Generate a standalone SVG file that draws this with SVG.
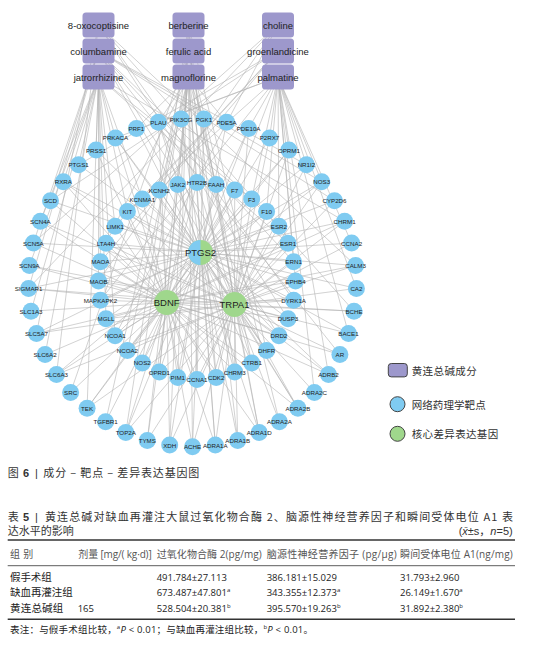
<svg xmlns="http://www.w3.org/2000/svg" width="542" height="649" viewBox="0 0 542 649">
<style>
.bg{fill:#fff}
#edges line{stroke:#b4b4b4;stroke-width:0.6}
.cmp rect{fill:#9d98cc}
.cmp text{font-family:"Liberation Sans",Arial,sans-serif;font-size:9.5px;fill:#222;text-anchor:middle;dominant-baseline:central}
.tgt circle{fill:#7fcbf1}
.tgt text{font-family:"Liberation Sans",Arial,sans-serif;font-size:6.2px;fill:#222;text-anchor:middle;dominant-baseline:central}
.core .g{fill:#9fd78c}
.core .b{fill:#7fcbf1}
.core text{font-family:"Liberation Sans",Arial,sans-serif;font-size:9.5px;fill:#222;text-anchor:middle;dominant-baseline:central}
.leg rect,.leg circle{stroke:#444;stroke-width:1}
.zh{font-family:"Noto Sans CJK SC",sans-serif;fill:#333}
.lt{font-size:10.5px;dominant-baseline:central}
.cap{font-size:11px;fill:#333}
.tb{font-family:"Open Sans","Noto Sans CJK SC",sans-serif;font-size:9.5px;fill:#222}
.tbz{font-family:"Noto Sans CJK SC",sans-serif;font-size:10.5px;fill:#222}
.hd{font-family:"Open Sans","Noto Sans CJK SC",sans-serif;font-size:10px;fill:#555}
.rule{stroke:#333}
</style>
<rect class="bg" width="542" height="649"/>
<g id="edges">
<line x1="98.5" y1="77" x2="115.5" y2="137.9"/><line x1="98.5" y1="77" x2="96.1" y2="150"/><line x1="98.5" y1="77" x2="78.6" y2="164.7"/><line x1="98.5" y1="77" x2="63.3" y2="181.7"/><line x1="98.5" y1="77" x2="40.4" y2="221.3"/><line x1="98.5" y1="77" x2="29.4" y2="265.6"/><line x1="98.5" y1="77" x2="31" y2="311.2"/><line x1="98.5" y1="77" x2="45.1" y2="354.6"/><line x1="98.5" y1="77" x2="127.4" y2="211.4"/><line x1="98.5" y1="77" x2="115.1" y2="226.3"/><line x1="98.5" y1="77" x2="100.4" y2="261.8"/><line x1="98.5" y1="77" x2="98.5" y2="281"/><line x1="98.5" y1="77" x2="106" y2="318.7"/><line x1="98.5" y1="77" x2="115.1" y2="335.7"/><line x1="98.5" y1="77" x2="142.3" y2="199.1"/><line x1="98.5" y1="77" x2="87.1" y2="408.3"/><line x1="98.5" y1="77" x2="344.6" y2="221.3"/><line x1="98.5" y1="77" x2="251.7" y2="199.1"/><line x1="98.5" y1="77" x2="288" y2="243.3"/>
<line x1="98.5" y1="51" x2="321.7" y2="181.7"/><line x1="98.5" y1="51" x2="306.4" y2="164.7"/><line x1="98.5" y1="51" x2="334.5" y2="200.7"/><line x1="98.5" y1="51" x2="293.6" y2="261.8"/><line x1="98.5" y1="51" x2="278.9" y2="335.7"/><line x1="98.5" y1="51" x2="278.9" y2="226.3"/><line x1="98.5" y1="51" x2="297.9" y2="408.3"/><line x1="98.5" y1="51" x2="339.9" y2="354.6"/><line x1="98.5" y1="51" x2="50.5" y2="200.7"/><line x1="98.5" y1="51" x2="33.4" y2="243"/><line x1="98.5" y1="51" x2="28.6" y2="288.4"/>
<line x1="98.5" y1="25" x2="355.6" y2="265.6"/><line x1="98.5" y1="25" x2="293.6" y2="300.2"/><line x1="98.5" y1="25" x2="288" y2="318.7"/><line x1="98.5" y1="25" x2="354" y2="311.2"/><line x1="98.5" y1="25" x2="36.5" y2="333.4"/><line x1="98.5" y1="25" x2="56.5" y2="374.4"/>
<line x1="188.5" y1="77" x2="181.1" y2="119.1"/><line x1="188.5" y1="77" x2="158.4" y2="122.3"/><line x1="188.5" y1="77" x2="136.4" y2="128.6"/><line x1="188.5" y1="77" x2="177.8" y2="184.4"/><line x1="188.5" y1="77" x2="159.3" y2="190"/><line x1="188.5" y1="77" x2="197" y2="182.5"/><line x1="188.5" y1="77" x2="216.2" y2="184.4"/><line x1="188.5" y1="77" x2="203.9" y2="119.1"/><line x1="188.5" y1="77" x2="226.6" y2="122.3"/><line x1="188.5" y1="77" x2="106" y2="243.3"/><line x1="188.5" y1="77" x2="127.4" y2="350.6"/><line x1="188.5" y1="77" x2="159.3" y2="372"/><line x1="188.5" y1="77" x2="197" y2="379.5"/><line x1="188.5" y1="77" x2="234.7" y2="372"/><line x1="188.5" y1="77" x2="192.5" y2="446.7"/><line x1="188.5" y1="77" x2="147.3" y2="440.4"/><line x1="188.5" y1="77" x2="215.3" y2="445.1"/>
<line x1="188.5" y1="51" x2="70.6" y2="392.4"/><line x1="188.5" y1="51" x2="105.6" y2="421.8"/><line x1="188.5" y1="51" x2="279.4" y2="421.8"/><line x1="188.5" y1="51" x2="259.2" y2="432.5"/><line x1="188.5" y1="51" x2="251.7" y2="362.9"/><line x1="188.5" y1="51" x2="142.3" y2="362.9"/>
<line x1="188.5" y1="25" x2="125.8" y2="432.5"/><line x1="188.5" y1="25" x2="169.7" y2="445.1"/><line x1="188.5" y1="25" x2="237.7" y2="440.4"/><line x1="188.5" y1="25" x2="266.6" y2="350.6"/><line x1="188.5" y1="25" x2="177.8" y2="377.6"/><line x1="188.5" y1="25" x2="216.2" y2="377.6"/>
<line x1="278" y1="77" x2="248.6" y2="128.6"/><line x1="278" y1="77" x2="269.5" y2="137.9"/><line x1="278" y1="77" x2="288.9" y2="150"/><line x1="278" y1="77" x2="306.4" y2="164.7"/><line x1="278" y1="77" x2="321.7" y2="181.7"/><line x1="278" y1="77" x2="234.7" y2="190"/><line x1="278" y1="77" x2="266.6" y2="211.4"/><line x1="278" y1="77" x2="251.7" y2="199.1"/><line x1="278" y1="77" x2="278.9" y2="226.3"/><line x1="278" y1="77" x2="295.5" y2="281"/><line x1="278" y1="77" x2="293.6" y2="261.8"/><line x1="278" y1="77" x2="351.6" y2="243"/><line x1="278" y1="77" x2="356.4" y2="288.4"/><line x1="278" y1="77" x2="348.5" y2="333.4"/><line x1="278" y1="77" x2="328.5" y2="374.4"/><line x1="278" y1="77" x2="314.4" y2="392.4"/><line x1="278" y1="77" x2="100.4" y2="300.2"/><line x1="278" y1="77" x2="127.4" y2="211.4"/><line x1="278" y1="77" x2="158.4" y2="122.3"/><line x1="278" y1="77" x2="115.5" y2="137.9"/>
<line x1="278" y1="51" x2="78.6" y2="164.7"/><line x1="278" y1="51" x2="50.5" y2="200.7"/><line x1="278" y1="51" x2="115.1" y2="226.3"/><line x1="278" y1="51" x2="142.3" y2="199.1"/><line x1="278" y1="51" x2="100.4" y2="261.8"/>
<line x1="278" y1="25" x2="33.4" y2="243"/><line x1="278" y1="25" x2="28.6" y2="288.4"/><line x1="278" y1="25" x2="98.5" y2="281"/><line x1="278" y1="25" x2="115.1" y2="335.7"/>
<line x1="200.5" y1="252.5" x2="293.6" y2="261.8"/><line x1="200.5" y1="252.5" x2="288" y2="243.3"/><line x1="200.5" y1="252.5" x2="278.9" y2="226.3"/><line x1="200.5" y1="252.5" x2="266.6" y2="211.4"/><line x1="200.5" y1="252.5" x2="251.7" y2="199.1"/><line x1="200.5" y1="252.5" x2="234.7" y2="190"/><line x1="200.5" y1="252.5" x2="216.2" y2="184.4"/><line x1="200.5" y1="252.5" x2="197" y2="182.5"/><line x1="200.5" y1="252.5" x2="177.8" y2="184.4"/><line x1="200.5" y1="252.5" x2="159.3" y2="190"/><line x1="200.5" y1="252.5" x2="142.3" y2="199.1"/><line x1="200.5" y1="252.5" x2="127.4" y2="211.4"/><line x1="200.5" y1="252.5" x2="115.1" y2="226.3"/><line x1="200.5" y1="252.5" x2="106" y2="243.3"/><line x1="200.5" y1="252.5" x2="100.4" y2="261.8"/><line x1="200.5" y1="252.5" x2="278.9" y2="335.7"/><line x1="200.5" y1="252.5" x2="106" y2="318.7"/><line x1="200.5" y1="252.5" x2="142.3" y2="362.9"/><line x1="200.5" y1="252.5" x2="251.7" y2="362.9"/><line x1="200.5" y1="252.5" x2="226.6" y2="122.3"/><line x1="200.5" y1="252.5" x2="181.1" y2="119.1"/><line x1="200.5" y1="252.5" x2="136.4" y2="128.6"/><line x1="200.5" y1="252.5" x2="96.1" y2="150"/><line x1="200.5" y1="252.5" x2="78.6" y2="164.7"/><line x1="200.5" y1="252.5" x2="63.3" y2="181.7"/><line x1="200.5" y1="252.5" x2="50.5" y2="200.7"/><line x1="200.5" y1="252.5" x2="351.6" y2="243"/><line x1="200.5" y1="252.5" x2="334.5" y2="200.7"/><line x1="200.5" y1="252.5" x2="306.4" y2="164.7"/><line x1="200.5" y1="252.5" x2="288.9" y2="150"/><line x1="200.5" y1="252.5" x2="269.5" y2="137.9"/><line x1="200.5" y1="252.5" x2="356.4" y2="288.4"/><line x1="200.5" y1="252.5" x2="348.5" y2="333.4"/><line x1="200.5" y1="252.5" x2="87.1" y2="408.3"/><line x1="200.5" y1="252.5" x2="36.5" y2="333.4"/><line x1="200.5" y1="252.5" x2="237.7" y2="440.4"/><line x1="200.5" y1="252.5" x2="192.5" y2="446.7"/><line x1="200.5" y1="252.5" x2="169.7" y2="445.1"/>
<line x1="200.5" y1="252.5" x2="197" y2="379.5"/><line x1="200.5" y1="252.5" x2="216.2" y2="377.6"/><line x1="200.5" y1="252.5" x2="234.7" y2="372"/><line x1="200.5" y1="252.5" x2="266.6" y2="350.6"/><line x1="200.5" y1="252.5" x2="288" y2="318.7"/><line x1="200.5" y1="252.5" x2="293.6" y2="300.2"/><line x1="200.5" y1="252.5" x2="295.5" y2="281"/><line x1="200.5" y1="252.5" x2="98.5" y2="281"/><line x1="200.5" y1="252.5" x2="100.4" y2="300.2"/><line x1="200.5" y1="252.5" x2="115.1" y2="335.7"/><line x1="200.5" y1="252.5" x2="127.4" y2="350.6"/><line x1="200.5" y1="252.5" x2="159.3" y2="372"/><line x1="200.5" y1="252.5" x2="177.8" y2="377.6"/><line x1="200.5" y1="252.5" x2="215.3" y2="445.1"/><line x1="200.5" y1="252.5" x2="259.2" y2="432.5"/><line x1="200.5" y1="252.5" x2="297.9" y2="408.3"/><line x1="200.5" y1="252.5" x2="328.5" y2="374.4"/><line x1="200.5" y1="252.5" x2="355.6" y2="265.6"/><line x1="200.5" y1="252.5" x2="344.6" y2="221.3"/><line x1="200.5" y1="252.5" x2="321.7" y2="181.7"/><line x1="200.5" y1="252.5" x2="248.6" y2="128.6"/><line x1="200.5" y1="252.5" x2="203.9" y2="119.1"/><line x1="200.5" y1="252.5" x2="158.4" y2="122.3"/><line x1="200.5" y1="252.5" x2="115.5" y2="137.9"/><line x1="200.5" y1="252.5" x2="33.4" y2="243"/><line x1="200.5" y1="252.5" x2="28.6" y2="288.4"/><line x1="200.5" y1="252.5" x2="56.5" y2="374.4"/><line x1="200.5" y1="252.5" x2="125.8" y2="432.5"/>
<line x1="166.7" y1="302.5" x2="98.5" y2="281"/><line x1="166.7" y1="302.5" x2="100.4" y2="300.2"/><line x1="166.7" y1="302.5" x2="106" y2="318.7"/><line x1="166.7" y1="302.5" x2="115.1" y2="335.7"/><line x1="166.7" y1="302.5" x2="127.4" y2="350.6"/><line x1="166.7" y1="302.5" x2="159.3" y2="372"/><line x1="166.7" y1="302.5" x2="177.8" y2="377.6"/><line x1="166.7" y1="302.5" x2="197" y2="379.5"/><line x1="166.7" y1="302.5" x2="106" y2="243.3"/><line x1="166.7" y1="302.5" x2="127.4" y2="211.4"/><line x1="166.7" y1="302.5" x2="177.8" y2="184.4"/><line x1="166.7" y1="302.5" x2="293.6" y2="300.2"/><line x1="166.7" y1="302.5" x2="288" y2="318.7"/><line x1="166.7" y1="302.5" x2="40.4" y2="221.3"/><line x1="166.7" y1="302.5" x2="33.4" y2="243"/><line x1="166.7" y1="302.5" x2="29.4" y2="265.6"/><line x1="166.7" y1="302.5" x2="28.6" y2="288.4"/><line x1="166.7" y1="302.5" x2="31" y2="311.2"/><line x1="166.7" y1="302.5" x2="45.1" y2="354.6"/><line x1="166.7" y1="302.5" x2="56.5" y2="374.4"/><line x1="166.7" y1="302.5" x2="70.6" y2="392.4"/><line x1="166.7" y1="302.5" x2="105.6" y2="421.8"/><line x1="166.7" y1="302.5" x2="125.8" y2="432.5"/><line x1="166.7" y1="302.5" x2="147.3" y2="440.4"/><line x1="166.7" y1="302.5" x2="158.4" y2="122.3"/><line x1="166.7" y1="302.5" x2="115.5" y2="137.9"/><line x1="166.7" y1="302.5" x2="259.2" y2="432.5"/><line x1="166.7" y1="302.5" x2="297.9" y2="408.3"/><line x1="166.7" y1="302.5" x2="354" y2="311.2"/><line x1="166.7" y1="302.5" x2="344.6" y2="221.3"/><line x1="166.7" y1="302.5" x2="203.9" y2="119.1"/><line x1="166.7" y1="302.5" x2="339.9" y2="354.6"/>
<line x1="166.7" y1="302.5" x2="159.3" y2="190"/><line x1="166.7" y1="302.5" x2="142.3" y2="199.1"/><line x1="166.7" y1="302.5" x2="115.1" y2="226.3"/><line x1="166.7" y1="302.5" x2="100.4" y2="261.8"/><line x1="166.7" y1="302.5" x2="142.3" y2="362.9"/><line x1="166.7" y1="302.5" x2="216.2" y2="377.6"/><line x1="166.7" y1="302.5" x2="234.7" y2="372"/><line x1="166.7" y1="302.5" x2="251.7" y2="362.9"/><line x1="166.7" y1="302.5" x2="278.9" y2="335.7"/><line x1="166.7" y1="302.5" x2="295.5" y2="281"/><line x1="166.7" y1="302.5" x2="288" y2="243.3"/><line x1="166.7" y1="302.5" x2="266.6" y2="211.4"/><line x1="166.7" y1="302.5" x2="234.7" y2="190"/><line x1="166.7" y1="302.5" x2="197" y2="182.5"/><line x1="166.7" y1="302.5" x2="96.1" y2="150"/><line x1="166.7" y1="302.5" x2="63.3" y2="181.7"/><line x1="166.7" y1="302.5" x2="50.5" y2="200.7"/><line x1="166.7" y1="302.5" x2="36.5" y2="333.4"/><line x1="166.7" y1="302.5" x2="87.1" y2="408.3"/><line x1="166.7" y1="302.5" x2="169.7" y2="445.1"/><line x1="166.7" y1="302.5" x2="192.5" y2="446.7"/><line x1="166.7" y1="302.5" x2="215.3" y2="445.1"/><line x1="166.7" y1="302.5" x2="328.5" y2="374.4"/><line x1="166.7" y1="302.5" x2="355.6" y2="265.6"/><line x1="166.7" y1="302.5" x2="321.7" y2="181.7"/><line x1="166.7" y1="302.5" x2="288.9" y2="150"/><line x1="166.7" y1="302.5" x2="248.6" y2="128.6"/>
<line x1="234.5" y1="304.5" x2="216.2" y2="377.6"/><line x1="234.5" y1="304.5" x2="234.7" y2="372"/><line x1="234.5" y1="304.5" x2="251.7" y2="362.9"/><line x1="234.5" y1="304.5" x2="266.6" y2="350.6"/><line x1="234.5" y1="304.5" x2="278.9" y2="335.7"/><line x1="234.5" y1="304.5" x2="288" y2="318.7"/><line x1="234.5" y1="304.5" x2="293.6" y2="300.2"/><line x1="234.5" y1="304.5" x2="295.5" y2="281"/><line x1="234.5" y1="304.5" x2="288" y2="243.3"/><line x1="234.5" y1="304.5" x2="251.7" y2="199.1"/><line x1="234.5" y1="304.5" x2="215.3" y2="445.1"/><line x1="234.5" y1="304.5" x2="259.2" y2="432.5"/><line x1="234.5" y1="304.5" x2="279.4" y2="421.8"/><line x1="234.5" y1="304.5" x2="314.4" y2="392.4"/><line x1="234.5" y1="304.5" x2="328.5" y2="374.4"/><line x1="234.5" y1="304.5" x2="339.9" y2="354.6"/><line x1="234.5" y1="304.5" x2="348.5" y2="333.4"/><line x1="234.5" y1="304.5" x2="354" y2="311.2"/><line x1="234.5" y1="304.5" x2="355.6" y2="265.6"/><line x1="234.5" y1="304.5" x2="344.6" y2="221.3"/><line x1="234.5" y1="304.5" x2="321.7" y2="181.7"/><line x1="234.5" y1="304.5" x2="248.6" y2="128.6"/><line x1="234.5" y1="304.5" x2="269.5" y2="137.9"/><line x1="234.5" y1="304.5" x2="63.3" y2="181.7"/><line x1="234.5" y1="304.5" x2="40.4" y2="221.3"/><line x1="234.5" y1="304.5" x2="28.6" y2="288.4"/><line x1="234.5" y1="304.5" x2="36.5" y2="333.4"/><line x1="234.5" y1="304.5" x2="87.1" y2="408.3"/><line x1="234.5" y1="304.5" x2="125.8" y2="432.5"/><line x1="234.5" y1="304.5" x2="169.7" y2="445.1"/>
<line x1="234.5" y1="304.5" x2="197" y2="379.5"/><line x1="234.5" y1="304.5" x2="293.6" y2="261.8"/><line x1="234.5" y1="304.5" x2="278.9" y2="226.3"/><line x1="234.5" y1="304.5" x2="266.6" y2="211.4"/><line x1="234.5" y1="304.5" x2="234.7" y2="190"/><line x1="234.5" y1="304.5" x2="216.2" y2="184.4"/><line x1="234.5" y1="304.5" x2="197" y2="182.5"/><line x1="234.5" y1="304.5" x2="159.3" y2="190"/><line x1="234.5" y1="304.5" x2="127.4" y2="211.4"/><line x1="234.5" y1="304.5" x2="106" y2="243.3"/><line x1="234.5" y1="304.5" x2="98.5" y2="281"/><line x1="234.5" y1="304.5" x2="106" y2="318.7"/><line x1="234.5" y1="304.5" x2="127.4" y2="350.6"/><line x1="234.5" y1="304.5" x2="159.3" y2="372"/><line x1="234.5" y1="304.5" x2="192.5" y2="446.7"/><line x1="234.5" y1="304.5" x2="237.7" y2="440.4"/><line x1="234.5" y1="304.5" x2="297.9" y2="408.3"/><line x1="234.5" y1="304.5" x2="356.4" y2="288.4"/><line x1="234.5" y1="304.5" x2="351.6" y2="243"/><line x1="234.5" y1="304.5" x2="334.5" y2="200.7"/><line x1="234.5" y1="304.5" x2="306.4" y2="164.7"/><line x1="234.5" y1="304.5" x2="288.9" y2="150"/><line x1="234.5" y1="304.5" x2="203.9" y2="119.1"/><line x1="234.5" y1="304.5" x2="158.4" y2="122.3"/><line x1="234.5" y1="304.5" x2="115.5" y2="137.9"/><line x1="234.5" y1="304.5" x2="29.4" y2="265.6"/><line x1="234.5" y1="304.5" x2="56.5" y2="374.4"/><line x1="234.5" y1="304.5" x2="147.3" y2="440.4"/>
</g>
<g id="compounds">
<g id="c-8-oxocoptisine" class="cmp"><rect x="82.5" y="12.5" width="32" height="25" rx="3.5"/><text x="98.5" y="25">8-oxocoptisine</text></g>
<g id="c-columbamine" class="cmp"><rect x="82.5" y="38.5" width="32" height="25" rx="3.5"/><text x="98.5" y="51">columbamine</text></g>
<g id="c-jatrorrhizine" class="cmp"><rect x="82.5" y="64.5" width="32" height="25" rx="3.5"/><text x="98.5" y="77">jatrorrhizine</text></g>
<g id="c-berberine" class="cmp"><rect x="172.5" y="12.5" width="32" height="25" rx="3.5"/><text x="188.5" y="25">berberine</text></g>
<g id="c-ferulic-acid" class="cmp"><rect x="172.5" y="38.5" width="32" height="25" rx="3.5"/><text x="188.5" y="51">ferulic acid</text></g>
<g id="c-magnoflorine" class="cmp"><rect x="172.5" y="64.5" width="32" height="25" rx="3.5"/><text x="188.5" y="77">magnoflorine</text></g>
<g id="c-choline" class="cmp"><rect x="262" y="12.5" width="32" height="25" rx="3.5"/><text x="278" y="25">choline</text></g>
<g id="c-groenlandicine" class="cmp"><rect x="262" y="38.5" width="32" height="25" rx="3.5"/><text x="278" y="51">groenlandicine</text></g>
<g id="c-palmatine" class="cmp"><rect x="262" y="64.5" width="32" height="25" rx="3.5"/><text x="278" y="77">palmatine</text></g>
</g>
<g id="targets">
<g id="t-ACHE" class="tgt"><circle cx="192.5" cy="446.7" r="8.5"/><text x="192.5" y="446.7">ACHE</text></g>
<g id="t-ADRA1A" class="tgt"><circle cx="215.3" cy="445.1" r="8.5"/><text x="215.3" y="445.1">ADRA1A</text></g>
<g id="t-ADRA1B" class="tgt"><circle cx="237.7" cy="440.4" r="8.5"/><text x="237.7" y="440.4">ADRA1B</text></g>
<g id="t-ADRA1D" class="tgt"><circle cx="259.2" cy="432.5" r="8.5"/><text x="259.2" y="432.5">ADRA1D</text></g>
<g id="t-ADRA2A" class="tgt"><circle cx="279.4" cy="421.8" r="8.5"/><text x="279.4" y="421.8">ADRA2A</text></g>
<g id="t-ADRA2B" class="tgt"><circle cx="297.9" cy="408.3" r="8.5"/><text x="297.9" y="408.3">ADRA2B</text></g>
<g id="t-ADRA2C" class="tgt"><circle cx="314.4" cy="392.4" r="8.5"/><text x="314.4" y="392.4">ADRA2C</text></g>
<g id="t-ADRB2" class="tgt"><circle cx="328.5" cy="374.4" r="8.5"/><text x="328.5" y="374.4">ADRB2</text></g>
<g id="t-AR" class="tgt"><circle cx="339.9" cy="354.6" r="8.5"/><text x="339.9" y="354.6">AR</text></g>
<g id="t-BACE1" class="tgt"><circle cx="348.5" cy="333.4" r="8.5"/><text x="348.5" y="333.4">BACE1</text></g>
<g id="t-BCHE" class="tgt"><circle cx="354" cy="311.2" r="8.5"/><text x="354" y="311.2">BCHE</text></g>
<g id="t-CA2" class="tgt"><circle cx="356.4" cy="288.4" r="8.5"/><text x="356.4" y="288.4">CA2</text></g>
<g id="t-CALM3" class="tgt"><circle cx="355.6" cy="265.6" r="8.5"/><text x="355.6" y="265.6">CALM3</text></g>
<g id="t-CCNA2" class="tgt"><circle cx="351.6" cy="243" r="8.5"/><text x="351.6" y="243">CCNA2</text></g>
<g id="t-CHRM1" class="tgt"><circle cx="344.6" cy="221.3" r="8.5"/><text x="344.6" y="221.3">CHRM1</text></g>
<g id="t-CYP2D6" class="tgt"><circle cx="334.5" cy="200.7" r="8.5"/><text x="334.5" y="200.7">CYP2D6</text></g>
<g id="t-NOS3" class="tgt"><circle cx="321.7" cy="181.7" r="8.5"/><text x="321.7" y="181.7">NOS3</text></g>
<g id="t-NR1I2" class="tgt"><circle cx="306.4" cy="164.7" r="8.5"/><text x="306.4" y="164.7">NR1I2</text></g>
<g id="t-OPRM1" class="tgt"><circle cx="288.9" cy="150" r="8.5"/><text x="288.9" y="150">OPRM1</text></g>
<g id="t-P2RX7" class="tgt"><circle cx="269.5" cy="137.9" r="8.5"/><text x="269.5" y="137.9">P2RX7</text></g>
<g id="t-PDE10A" class="tgt"><circle cx="248.6" cy="128.6" r="8.5"/><text x="248.6" y="128.6">PDE10A</text></g>
<g id="t-PDE5A" class="tgt"><circle cx="226.6" cy="122.3" r="8.5"/><text x="226.6" y="122.3">PDE5A</text></g>
<g id="t-PGK1" class="tgt"><circle cx="203.9" cy="119.1" r="8.5"/><text x="203.9" y="119.1">PGK1</text></g>
<g id="t-PIK3CG" class="tgt"><circle cx="181.1" cy="119.1" r="8.5"/><text x="181.1" y="119.1">PIK3CG</text></g>
<g id="t-PLAU" class="tgt"><circle cx="158.4" cy="122.3" r="8.5"/><text x="158.4" y="122.3">PLAU</text></g>
<g id="t-PRF1" class="tgt"><circle cx="136.4" cy="128.6" r="8.5"/><text x="136.4" y="128.6">PRF1</text></g>
<g id="t-PRKACA" class="tgt"><circle cx="115.5" cy="137.9" r="8.5"/><text x="115.5" y="137.9">PRKACA</text></g>
<g id="t-PRSS1" class="tgt"><circle cx="96.1" cy="150" r="8.5"/><text x="96.1" y="150">PRSS1</text></g>
<g id="t-PTGS1" class="tgt"><circle cx="78.6" cy="164.7" r="8.5"/><text x="78.6" y="164.7">PTGS1</text></g>
<g id="t-RXRA" class="tgt"><circle cx="63.3" cy="181.7" r="8.5"/><text x="63.3" y="181.7">RXRA</text></g>
<g id="t-SCD" class="tgt"><circle cx="50.5" cy="200.7" r="8.5"/><text x="50.5" y="200.7">SCD</text></g>
<g id="t-SCN4A" class="tgt"><circle cx="40.4" cy="221.3" r="8.5"/><text x="40.4" y="221.3">SCN4A</text></g>
<g id="t-SCN5A" class="tgt"><circle cx="33.4" cy="243" r="8.5"/><text x="33.4" y="243">SCN5A</text></g>
<g id="t-SCN9A" class="tgt"><circle cx="29.4" cy="265.6" r="8.5"/><text x="29.4" y="265.6">SCN9A</text></g>
<g id="t-SIGMAR1" class="tgt"><circle cx="28.6" cy="288.4" r="8.5"/><text x="28.6" y="288.4">SIGMAR1</text></g>
<g id="t-SLC1A3" class="tgt"><circle cx="31" cy="311.2" r="8.5"/><text x="31" y="311.2">SLC1A3</text></g>
<g id="t-SLC5A7" class="tgt"><circle cx="36.5" cy="333.4" r="8.5"/><text x="36.5" y="333.4">SLC5A7</text></g>
<g id="t-SLC6A2" class="tgt"><circle cx="45.1" cy="354.6" r="8.5"/><text x="45.1" y="354.6">SLC6A2</text></g>
<g id="t-SLC6A3" class="tgt"><circle cx="56.5" cy="374.4" r="8.5"/><text x="56.5" y="374.4">SLC6A3</text></g>
<g id="t-SRC" class="tgt"><circle cx="70.6" cy="392.4" r="8.5"/><text x="70.6" y="392.4">SRC</text></g>
<g id="t-TEK" class="tgt"><circle cx="87.1" cy="408.3" r="8.5"/><text x="87.1" y="408.3">TEK</text></g>
<g id="t-TGFBR1" class="tgt"><circle cx="105.6" cy="421.8" r="8.5"/><text x="105.6" y="421.8">TGFBR1</text></g>
<g id="t-TOP2A" class="tgt"><circle cx="125.8" cy="432.5" r="8.5"/><text x="125.8" y="432.5">TOP2A</text></g>
<g id="t-TYMS" class="tgt"><circle cx="147.3" cy="440.4" r="8.5"/><text x="147.3" y="440.4">TYMS</text></g>
<g id="t-XDH" class="tgt"><circle cx="169.7" cy="445.1" r="8.5"/><text x="169.7" y="445.1">XDH</text></g>
<g id="t-CCNA1" class="tgt"><circle cx="197" cy="379.5" r="8.5"/><text x="197" y="379.5">CCNA1</text></g>
<g id="t-CDK2" class="tgt"><circle cx="216.2" cy="377.6" r="8.5"/><text x="216.2" y="377.6">CDK2</text></g>
<g id="t-CHRM3" class="tgt"><circle cx="234.7" cy="372" r="8.5"/><text x="234.7" y="372">CHRM3</text></g>
<g id="t-CTRB1" class="tgt"><circle cx="251.7" cy="362.9" r="8.5"/><text x="251.7" y="362.9">CTRB1</text></g>
<g id="t-DHFR" class="tgt"><circle cx="266.6" cy="350.6" r="8.5"/><text x="266.6" y="350.6">DHFR</text></g>
<g id="t-DRD2" class="tgt"><circle cx="278.9" cy="335.7" r="8.5"/><text x="278.9" y="335.7">DRD2</text></g>
<g id="t-DUSP3" class="tgt"><circle cx="288" cy="318.7" r="8.5"/><text x="288" y="318.7">DUSP3</text></g>
<g id="t-DYRK1A" class="tgt"><circle cx="293.6" cy="300.2" r="8.5"/><text x="293.6" y="300.2">DYRK1A</text></g>
<g id="t-EPHB4" class="tgt"><circle cx="295.5" cy="281" r="8.5"/><text x="295.5" y="281">EPHB4</text></g>
<g id="t-ERN1" class="tgt"><circle cx="293.6" cy="261.8" r="8.5"/><text x="293.6" y="261.8">ERN1</text></g>
<g id="t-ESR1" class="tgt"><circle cx="288" cy="243.3" r="8.5"/><text x="288" y="243.3">ESR1</text></g>
<g id="t-ESR2" class="tgt"><circle cx="278.9" cy="226.3" r="8.5"/><text x="278.9" y="226.3">ESR2</text></g>
<g id="t-F10" class="tgt"><circle cx="266.6" cy="211.4" r="8.5"/><text x="266.6" y="211.4">F10</text></g>
<g id="t-F3" class="tgt"><circle cx="251.7" cy="199.1" r="8.5"/><text x="251.7" y="199.1">F3</text></g>
<g id="t-F7" class="tgt"><circle cx="234.7" cy="190" r="8.5"/><text x="234.7" y="190">F7</text></g>
<g id="t-FAAH" class="tgt"><circle cx="216.2" cy="184.4" r="8.5"/><text x="216.2" y="184.4">FAAH</text></g>
<g id="t-HTR2B" class="tgt"><circle cx="197" cy="182.5" r="8.5"/><text x="197" y="182.5">HTR2B</text></g>
<g id="t-JAK2" class="tgt"><circle cx="177.8" cy="184.4" r="8.5"/><text x="177.8" y="184.4">JAK2</text></g>
<g id="t-KCNH2" class="tgt"><circle cx="159.3" cy="190" r="8.5"/><text x="159.3" y="190">KCNH2</text></g>
<g id="t-KCNMA1" class="tgt"><circle cx="142.3" cy="199.1" r="8.5"/><text x="142.3" y="199.1">KCNMA1</text></g>
<g id="t-KIT" class="tgt"><circle cx="127.4" cy="211.4" r="8.5"/><text x="127.4" y="211.4">KIT</text></g>
<g id="t-LIMK1" class="tgt"><circle cx="115.1" cy="226.3" r="8.5"/><text x="115.1" y="226.3">LIMK1</text></g>
<g id="t-LTA4H" class="tgt"><circle cx="106" cy="243.3" r="8.5"/><text x="106" y="243.3">LTA4H</text></g>
<g id="t-MAOA" class="tgt"><circle cx="100.4" cy="261.8" r="8.5"/><text x="100.4" y="261.8">MAOA</text></g>
<g id="t-MAOB" class="tgt"><circle cx="98.5" cy="281" r="8.5"/><text x="98.5" y="281">MAOB</text></g>
<g id="t-MAPKAPK2" class="tgt"><circle cx="100.4" cy="300.2" r="8.5"/><text x="100.4" y="300.2">MAPKAPK2</text></g>
<g id="t-MGLL" class="tgt"><circle cx="106" cy="318.7" r="8.5"/><text x="106" y="318.7">MGLL</text></g>
<g id="t-NCOA1" class="tgt"><circle cx="115.1" cy="335.7" r="8.5"/><text x="115.1" y="335.7">NCOA1</text></g>
<g id="t-NCOA2" class="tgt"><circle cx="127.4" cy="350.6" r="8.5"/><text x="127.4" y="350.6">NCOA2</text></g>
<g id="t-NOS2" class="tgt"><circle cx="142.3" cy="362.9" r="8.5"/><text x="142.3" y="362.9">NOS2</text></g>
<g id="t-OPRD1" class="tgt"><circle cx="159.3" cy="372" r="8.5"/><text x="159.3" y="372">OPRD1</text></g>
<g id="t-PIM1" class="tgt"><circle cx="177.8" cy="377.6" r="8.5"/><text x="177.8" y="377.6">PIM1</text></g>
</g>
<g id="cores">
<g id="g-PTGS2" class="core"><circle class="g" cx="200.5" cy="252.5" r="12.5"/><path class="b" d="M200.5 240A12.5 12.5 0 0 0 200.5 265Z"/><text x="200.5" y="252.5">PTGS2</text></g>
<g id="g-BDNF" class="core"><circle class="g" cx="166.7" cy="302.5" r="12.5"/><text x="166.7" y="302.5">BDNF</text></g>
<g id="g-TRPA1" class="core"><circle class="g" cx="234.5" cy="304.5" r="12.5"/><text x="234.5" y="304.5">TRPA1</text></g>
</g>
<g id="legend" class="leg">
<rect x="388.3" y="363.5" width="19" height="13.4" rx="3" fill="#9d98cc"/>
<text class="zh lt" x="411.7" y="370.5" textLength="65">黄连总碱成分</text>
<circle cx="397.5" cy="404.2" r="7.5" fill="#7fcbf1"/>
<text class="zh lt" x="411.7" y="404.2" textLength="74">网络药理学靶点</text>
<circle cx="397.5" cy="433.8" r="7.5" fill="#9fd78c"/>
<text class="zh lt" x="411.7" y="433.8" textLength="86.5">核心差异表达基因</text>
</g>
<g id="caption">
<text class="zh cap" x="7.7" y="476.5" font-size="11.5">图</text>
<text class="cap" x="23" y="476.5" font-size="11.5" font-family="Liberation Sans,sans-serif" font-weight="bold">6</text>
<text class="cap" x="35" y="476.5" font-size="11.5" font-family="Liberation Sans,sans-serif" fill="#999">|</text>
<text class="zh cap" x="43.3" y="476.5" font-size="11.5" textLength="156">成分 – 靶点 – 差异表达基因图</text>
<text class="zh cap" x="7.7" y="520.6">表</text>
<text class="cap" x="23" y="520.6" font-family="Liberation Sans,sans-serif" font-weight="bold">5</text>
<text class="cap" x="35" y="520.6" font-family="Liberation Sans,sans-serif" fill="#999">|</text>
<text class="zh cap" x="45" y="520.6" textLength="468">黄连总碱对缺血再灌注大鼠过氧化物合酶 2、脑源性神经营养因子和瞬间受体电位 A1 表</text>
<text class="zh cap" x="7.7" y="534.8">达水平的影响</text>
<text class="cap" x="512.7" y="534.8" text-anchor="end" font-family="Liberation Sans,Noto Sans CJK SC,sans-serif">(<tspan font-style="italic">x̄</tspan>±s，<tspan font-style="italic">n</tspan>=5)</text>
</g>
<g id="table">
<line class="rule" x1="7.7" y1="540" x2="515" y2="540" stroke-width="1.6"/>
<line class="rule" x1="7.7" y1="565.7" x2="515" y2="565.7" stroke-width="0.8"/>
<line class="rule" x1="7.7" y1="619.3" x2="515" y2="619.3" stroke-width="1.6"/>
<text class="hd" x="10" y="557.6" textLength="23.3">组别</text>
<text class="hd" x="78.3" y="557.6" textLength="73.4">剂量 [mg/( kg·d)]</text>
<text class="hd" x="156.7" y="557.6" textLength="105">过氧化物合酶 2(pg/mg)</text>
<text class="hd" x="266.7" y="557.6" textLength="130">脑源性神经营养因子 (pg/μg)</text>
<text class="hd" x="400" y="557.6" textLength="112.7">瞬间受体电位 A1(ng/mg)</text>
<text class="tbz" x="10" y="581.4" textLength="41.7">假手术组</text>
<text class="tb" x="156.7" y="581.4">491.784±27.113</text>
<text class="tb" x="266.7" y="581.4">386.181±15.029</text>
<text class="tb" x="400" y="581.4">31.793±2.960</text>
<text class="tbz" x="10" y="596" textLength="62.7">缺血再灌注组</text>
<text class="tb" x="156.7" y="596">673.487±47.801<tspan font-size="6" baseline-shift="super">a</tspan></text>
<text class="tb" x="266.7" y="596">343.355±12.373<tspan font-size="6" baseline-shift="super">a</tspan></text>
<text class="tb" x="400" y="596">26.149±1.670<tspan font-size="6" baseline-shift="super">a</tspan></text>
<text class="tbz" x="10" y="612" textLength="53.3">黄连总碱组</text>
<text class="tb" x="77.7" y="612">165</text>
<text class="tb" x="156.7" y="612">528.504±20.381<tspan font-size="6" baseline-shift="super">b</tspan></text>
<text class="tb" x="266.7" y="612">395.570±19.263<tspan font-size="6" baseline-shift="super">b</tspan></text>
<text class="tb" x="400" y="612">31.892±2.380<tspan font-size="6" baseline-shift="super">b</tspan></text>
<text class="tb" x="10" y="633" font-size="10" fill="#333" textLength="303">表注：与假手术组比较，<tspan font-size="6" baseline-shift="super">a</tspan><tspan font-style="italic">P</tspan> &lt; 0.01；与缺血再灌注组比较，<tspan font-size="6" baseline-shift="super">b</tspan><tspan font-style="italic">P</tspan> &lt; 0.01。</text>
</g>
</svg>
